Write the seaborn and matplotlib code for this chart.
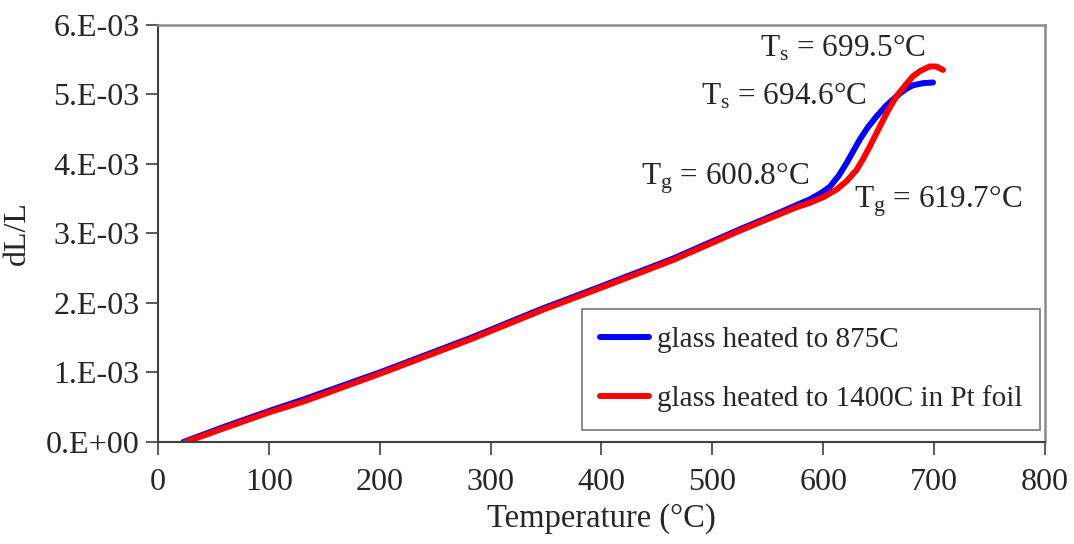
import numpy as np
import pandas as pd
import matplotlib
matplotlib.use('Agg')
import matplotlib.pyplot as plt
import seaborn as sns

# ========== data ==========
temp_875 = [23, 60, 101, 131, 200, 281, 347, 400, 465, 525, 552, 575, 588, 598,
            606, 614, 621, 627, 633, 640, 648, 657, 666, 674, 681, 690, 699]
dl_875 = [0.00, 0.22, 0.45, 0.61, 1.00, 1.49, 1.92, 2.24, 2.64, 3.06, 3.24, 3.40,
          3.49, 3.58, 3.67, 3.83, 4.01, 4.18, 4.35, 4.52, 4.68, 4.84, 4.97, 5.07,
          5.13, 5.16, 5.17]

temp_1400 = [25, 60, 101, 131, 200, 281, 347, 400, 465, 525, 552, 575, 588, 600,
             612, 621, 630, 636, 642, 648, 654, 660, 666, 674, 681, 688, 696, 702, 708]
dl_1400 = [0.00, 0.20, 0.43, 0.58, 0.98, 1.47, 1.90, 2.22, 2.62, 3.04, 3.22, 3.37,
           3.44, 3.52, 3.63, 3.75, 3.91, 4.07, 4.25, 4.44, 4.63, 4.81, 4.97, 5.13,
           5.26, 5.34, 5.40, 5.40, 5.35]

series_names = ['glass heated to 875C', 'glass heated to 1400C in Pt foil']
series_colors = ['#0000FF', '#FF0000']

xticks = [0, 100, 200, 300, 400, 500, 600, 700, 800]
yticks = [0, 1e-3, 2e-3, 3e-3, 4e-3, 5e-3, 6e-3]
ytick_labels = ['0.E+00', '1.E-03', '2.E-03', '3.E-03', '4.E-03', '5.E-03', '6.E-03']

# annotation text and anchor (data coords)
notes = [r'T$_{\rm s}$ = 699.5°C', r'T$_{\rm s}$ = 694.6°C',
         r'T$_{\rm g}$ = 600.8°C', r'T$_{\rm g}$ = 619.7°C']
note_x = [543, 490, 436, 628]
note_y = [5.54e-3, 4.85e-3, 3.71e-3, 3.37e-3]

# ========== long-form table ==========
df = pd.concat([
    pd.DataFrame({'T': temp_875, 'dL': np.array(dl_875) * 1e-3, 'sample': series_names[0]}),
    pd.DataFrame({'T': temp_1400, 'dL': np.array(dl_1400) * 1e-3, 'sample': series_names[1]}),
], ignore_index=True)

sns.set_style('white')
plt.rcParams['font.family'] = ['Liberation Serif', 'DejaVu Serif']
plt.rcParams['mathtext.fontset'] = 'custom'
plt.rcParams['mathtext.rm'] = 'Liberation Serif'
plt.rcParams['mathtext.it'] = 'Liberation Serif:italic'

fig = plt.figure(figsize=(10.74, 5.44), dpi=100)
ax = fig.add_axes([0.147, 0.1875, 0.826, 0.767])

sns.lineplot(data=df, x='T', y='dL', hue='sample', palette=series_colors,
             sort=False, linewidth=4.3, ax=ax, legend=False)
for line in ax.lines:
    line.set_solid_capstyle('round')

ax.set_xlim(0, 800)
ax.set_ylim(0, 6e-3)
ax.set_xticks(xticks)
ax.set_yticks(yticks)
ax.set_yticklabels(ytick_labels)
ax.tick_params(axis='both', labelsize=23, direction='out', length=9, width=1.2,
               color='#404040', bottom=True, left=True)
ax.tick_params(axis='y', pad=4)
ax.tick_params(axis='x', pad=10)

for side in ['left', 'bottom']:
    ax.spines[side].set_color('#404040')
    ax.spines[side].set_linewidth(1.5)
for side in ['top', 'right']:
    ax.spines[side].set_color('#8c8c8c')
    ax.spines[side].set_linewidth(1.8)

ax.set_xlabel('Temperature (°C)', fontsize=23.5, labelpad=4)
ax.set_ylabel('dL/L', fontsize=23, labelpad=10)

for txt, tx, ty in zip(notes, note_x, note_y):
    ax.text(tx, ty, txt, fontsize=22.5, ha='left', va='baseline')

handles = [plt.Line2D([], [], color=c, linewidth=4.3, solid_capstyle='round')
           for c in series_colors]
leg = ax.legend(handles, series_names, loc='lower right', bbox_to_anchor=(0.994, 0.029),
                fontsize=21, frameon=True, fancybox=False, handlelength=1.7,
                handletextpad=0.25, labelspacing=1.1, borderpad=0.6, borderaxespad=0)
leg.get_frame().set_edgecolor('#555555')
leg.get_frame().set_linewidth(1.2)

fig.savefig('out.png', dpi=100)
